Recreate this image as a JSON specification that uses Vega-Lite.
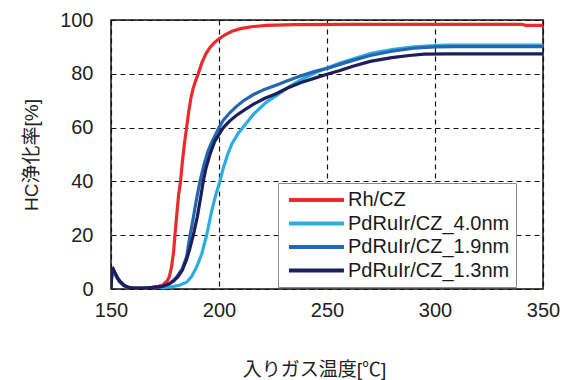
{
  "$schema": "https://vega.github.io/schema/vega-lite/v6.json",
  "width": 432,
  "height": 269,
  "autosize": {"type": "none"},
  "padding": {"left": 111, "top": 20, "right": 22, "bottom": 91},
  "background": "white",
  "datasets": {
    "curves": [
      {"s":"Rh/CZ","t":150,"v":0},{"s":"Rh/CZ","t":150.4,"v":6.5},{"s":"Rh/CZ","t":151,"v":7.2},{"s":"Rh/CZ","t":152,"v":5.5},{"s":"Rh/CZ","t":153,"v":4},{"s":"Rh/CZ","t":154,"v":2.8},{"s":"Rh/CZ","t":156,"v":1.3},{"s":"Rh/CZ","t":158,"v":0.6},{"s":"Rh/CZ","t":160,"v":0.3},{"s":"Rh/CZ","t":164,"v":0.2},{"s":"Rh/CZ","t":168,"v":0.4},{"s":"Rh/CZ","t":172,"v":1},{"s":"Rh/CZ","t":174,"v":1.5},{"s":"Rh/CZ","t":176,"v":3},{"s":"Rh/CZ","t":177,"v":4.6},{"s":"Rh/CZ","t":178,"v":8},{"s":"Rh/CZ","t":179,"v":14},{"s":"Rh/CZ","t":179.6,"v":20},{"s":"Rh/CZ","t":180.5,"v":28},{"s":"Rh/CZ","t":181.3,"v":35},{"s":"Rh/CZ","t":182.2,"v":40},{"s":"Rh/CZ","t":183,"v":47},{"s":"Rh/CZ","t":184,"v":54},{"s":"Rh/CZ","t":185,"v":60},{"s":"Rh/CZ","t":186,"v":66},{"s":"Rh/CZ","t":187,"v":71},{"s":"Rh/CZ","t":188,"v":74.5},{"s":"Rh/CZ","t":189,"v":77},{"s":"Rh/CZ","t":190.4,"v":80},{"s":"Rh/CZ","t":192,"v":84},{"s":"Rh/CZ","t":194,"v":87.5},{"s":"Rh/CZ","t":196,"v":90},{"s":"Rh/CZ","t":198,"v":91.7},{"s":"Rh/CZ","t":200,"v":93},{"s":"Rh/CZ","t":203,"v":94.6},{"s":"Rh/CZ","t":206,"v":95.8},{"s":"Rh/CZ","t":210,"v":96.8},{"s":"Rh/CZ","t":215,"v":97.5},{"s":"Rh/CZ","t":222,"v":98},{"s":"Rh/CZ","t":235,"v":98.3},{"s":"Rh/CZ","t":260,"v":98.4},{"s":"Rh/CZ","t":340,"v":98.4},{"s":"Rh/CZ","t":342,"v":98},{"s":"Rh/CZ","t":350,"v":98},

      {"s":"PdRuIr/CZ_4.0nm","t":150,"v":0},{"s":"PdRuIr/CZ_4.0nm","t":150.4,"v":6},{"s":"PdRuIr/CZ_4.0nm","t":151,"v":6.8},{"s":"PdRuIr/CZ_4.0nm","t":152,"v":5.2},{"s":"PdRuIr/CZ_4.0nm","t":153,"v":3.8},{"s":"PdRuIr/CZ_4.0nm","t":154,"v":2.6},{"s":"PdRuIr/CZ_4.0nm","t":156,"v":1.2},{"s":"PdRuIr/CZ_4.0nm","t":158,"v":0.5},{"s":"PdRuIr/CZ_4.0nm","t":160,"v":0.2},{"s":"PdRuIr/CZ_4.0nm","t":166,"v":0.2},{"s":"PdRuIr/CZ_4.0nm","t":174,"v":0.5},{"s":"PdRuIr/CZ_4.0nm","t":178,"v":0.8},{"s":"PdRuIr/CZ_4.0nm","t":182,"v":1.5},{"s":"PdRuIr/CZ_4.0nm","t":185,"v":2.5},{"s":"PdRuIr/CZ_4.0nm","t":187.3,"v":4.6},{"s":"PdRuIr/CZ_4.0nm","t":189.7,"v":8.3},{"s":"PdRuIr/CZ_4.0nm","t":192,"v":13},{"s":"PdRuIr/CZ_4.0nm","t":194.3,"v":20},{"s":"PdRuIr/CZ_4.0nm","t":196.6,"v":29},{"s":"PdRuIr/CZ_4.0nm","t":198.5,"v":35},{"s":"PdRuIr/CZ_4.0nm","t":200.4,"v":40},{"s":"PdRuIr/CZ_4.0nm","t":202,"v":45},{"s":"PdRuIr/CZ_4.0nm","t":204,"v":50},{"s":"PdRuIr/CZ_4.0nm","t":206,"v":54},{"s":"PdRuIr/CZ_4.0nm","t":209,"v":58},{"s":"PdRuIr/CZ_4.0nm","t":212,"v":61},{"s":"PdRuIr/CZ_4.0nm","t":216,"v":65},{"s":"PdRuIr/CZ_4.0nm","t":222,"v":69.5},{"s":"PdRuIr/CZ_4.0nm","t":226.7,"v":72},{"s":"PdRuIr/CZ_4.0nm","t":232,"v":75},{"s":"PdRuIr/CZ_4.0nm","t":238,"v":77.8},{"s":"PdRuIr/CZ_4.0nm","t":244,"v":80.2},{"s":"PdRuIr/CZ_4.0nm","t":250,"v":82.2},{"s":"PdRuIr/CZ_4.0nm","t":256,"v":84},{"s":"PdRuIr/CZ_4.0nm","t":262,"v":85.5},{"s":"PdRuIr/CZ_4.0nm","t":270,"v":87.5},{"s":"PdRuIr/CZ_4.0nm","t":280,"v":89},{"s":"PdRuIr/CZ_4.0nm","t":290,"v":90},{"s":"PdRuIr/CZ_4.0nm","t":300,"v":90.5},{"s":"PdRuIr/CZ_4.0nm","t":305,"v":90.7},{"s":"PdRuIr/CZ_4.0nm","t":350,"v":90.7},

      {"s":"PdRuIr/CZ_1.9nm","t":150,"v":0},{"s":"PdRuIr/CZ_1.9nm","t":150.4,"v":6.5},{"s":"PdRuIr/CZ_1.9nm","t":151,"v":7.2},{"s":"PdRuIr/CZ_1.9nm","t":152,"v":5.6},{"s":"PdRuIr/CZ_1.9nm","t":153,"v":4},{"s":"PdRuIr/CZ_1.9nm","t":154,"v":2.8},{"s":"PdRuIr/CZ_1.9nm","t":156,"v":1.3},{"s":"PdRuIr/CZ_1.9nm","t":158,"v":0.6},{"s":"PdRuIr/CZ_1.9nm","t":160,"v":0.3},{"s":"PdRuIr/CZ_1.9nm","t":166,"v":0.3},{"s":"PdRuIr/CZ_1.9nm","t":172,"v":0.8},{"s":"PdRuIr/CZ_1.9nm","t":174,"v":1},{"s":"PdRuIr/CZ_1.9nm","t":177,"v":1.8},{"s":"PdRuIr/CZ_1.9nm","t":180,"v":4},{"s":"PdRuIr/CZ_1.9nm","t":183,"v":7.5},{"s":"PdRuIr/CZ_1.9nm","t":185,"v":12},{"s":"PdRuIr/CZ_1.9nm","t":186.6,"v":20},{"s":"PdRuIr/CZ_1.9nm","t":188,"v":26},{"s":"PdRuIr/CZ_1.9nm","t":189.5,"v":33},{"s":"PdRuIr/CZ_1.9nm","t":191.2,"v":40},{"s":"PdRuIr/CZ_1.9nm","t":193,"v":46},{"s":"PdRuIr/CZ_1.9nm","t":194.8,"v":51},{"s":"PdRuIr/CZ_1.9nm","t":196.6,"v":54.5},{"s":"PdRuIr/CZ_1.9nm","t":198.5,"v":57.5},{"s":"PdRuIr/CZ_1.9nm","t":200,"v":60},{"s":"PdRuIr/CZ_1.9nm","t":202,"v":62.8},{"s":"PdRuIr/CZ_1.9nm","t":205,"v":65.5},{"s":"PdRuIr/CZ_1.9nm","t":208,"v":67.8},{"s":"PdRuIr/CZ_1.9nm","t":211.3,"v":70},{"s":"PdRuIr/CZ_1.9nm","t":216,"v":72.3},{"s":"PdRuIr/CZ_1.9nm","t":221,"v":74.2},{"s":"PdRuIr/CZ_1.9nm","t":226.7,"v":75.8},{"s":"PdRuIr/CZ_1.9nm","t":232,"v":77.5},{"s":"PdRuIr/CZ_1.9nm","t":238,"v":79.3},{"s":"PdRuIr/CZ_1.9nm","t":244,"v":80.8},{"s":"PdRuIr/CZ_1.9nm","t":250,"v":82},{"s":"PdRuIr/CZ_1.9nm","t":256,"v":83.5},{"s":"PdRuIr/CZ_1.9nm","t":262,"v":85},{"s":"PdRuIr/CZ_1.9nm","t":270,"v":86.8},{"s":"PdRuIr/CZ_1.9nm","t":280,"v":88.4},{"s":"PdRuIr/CZ_1.9nm","t":290,"v":89.5},{"s":"PdRuIr/CZ_1.9nm","t":300,"v":90},{"s":"PdRuIr/CZ_1.9nm","t":310,"v":90.1},{"s":"PdRuIr/CZ_1.9nm","t":350,"v":90.1},

      {"s":"PdRuIr/CZ_1.3nm","t":150,"v":0},{"s":"PdRuIr/CZ_1.3nm","t":150.4,"v":6.8},{"s":"PdRuIr/CZ_1.3nm","t":151,"v":7.5},{"s":"PdRuIr/CZ_1.3nm","t":152,"v":5.8},{"s":"PdRuIr/CZ_1.3nm","t":153,"v":4.2},{"s":"PdRuIr/CZ_1.3nm","t":154,"v":3},{"s":"PdRuIr/CZ_1.3nm","t":156,"v":1.4},{"s":"PdRuIr/CZ_1.3nm","t":158,"v":0.6},{"s":"PdRuIr/CZ_1.3nm","t":160,"v":0.3},{"s":"PdRuIr/CZ_1.3nm","t":166,"v":0.3},{"s":"PdRuIr/CZ_1.3nm","t":172,"v":0.8},{"s":"PdRuIr/CZ_1.3nm","t":174,"v":1},{"s":"PdRuIr/CZ_1.3nm","t":177,"v":2},{"s":"PdRuIr/CZ_1.3nm","t":179,"v":3},{"s":"PdRuIr/CZ_1.3nm","t":181,"v":4.6},{"s":"PdRuIr/CZ_1.3nm","t":183,"v":7},{"s":"PdRuIr/CZ_1.3nm","t":185,"v":11},{"s":"PdRuIr/CZ_1.3nm","t":186.5,"v":15},{"s":"PdRuIr/CZ_1.3nm","t":188.1,"v":20},{"s":"PdRuIr/CZ_1.3nm","t":190,"v":27},{"s":"PdRuIr/CZ_1.3nm","t":191.5,"v":34},{"s":"PdRuIr/CZ_1.3nm","t":192.7,"v":40},{"s":"PdRuIr/CZ_1.3nm","t":194,"v":45},{"s":"PdRuIr/CZ_1.3nm","t":196,"v":50.5},{"s":"PdRuIr/CZ_1.3nm","t":198.1,"v":55},{"s":"PdRuIr/CZ_1.3nm","t":200,"v":57.5},{"s":"PdRuIr/CZ_1.3nm","t":202,"v":60},{"s":"PdRuIr/CZ_1.3nm","t":205,"v":62.5},{"s":"PdRuIr/CZ_1.3nm","t":208,"v":64.5},{"s":"PdRuIr/CZ_1.3nm","t":211.3,"v":66.3},{"s":"PdRuIr/CZ_1.3nm","t":216,"v":68.7},{"s":"PdRuIr/CZ_1.3nm","t":221,"v":70.8},{"s":"PdRuIr/CZ_1.3nm","t":226.7,"v":72.7},{"s":"PdRuIr/CZ_1.3nm","t":232,"v":74.8},{"s":"PdRuIr/CZ_1.3nm","t":238,"v":76.8},{"s":"PdRuIr/CZ_1.3nm","t":244,"v":78.3},{"s":"PdRuIr/CZ_1.3nm","t":250,"v":79.8},{"s":"PdRuIr/CZ_1.3nm","t":256,"v":81.2},{"s":"PdRuIr/CZ_1.3nm","t":262,"v":82.8},{"s":"PdRuIr/CZ_1.3nm","t":270,"v":84.6},{"s":"PdRuIr/CZ_1.3nm","t":280,"v":86},{"s":"PdRuIr/CZ_1.3nm","t":288,"v":86.8},{"s":"PdRuIr/CZ_1.3nm","t":295,"v":87.3},{"s":"PdRuIr/CZ_1.3nm","t":305,"v":87.4},{"s":"PdRuIr/CZ_1.3nm","t":350,"v":87.4}
    ]
  },
  "data": {"name": "curves"},
  "mark": {"type": "line", "strokeWidth": 3.2, "clip": true},
  "encoding": {
    "x": {
      "field": "t", "type": "quantitative",
      "scale": {"domain": [150, 350], "nice": false, "zero": false},
      "axis": {"values": [150, 200, 250, 300, 350], "title": "入りガス温度[℃]", "titlePadding": 40, "titleX": 203, "titleAnchor": null}
    },
    "y": {
      "field": "v", "type": "quantitative",
      "scale": {"domain": [0, 100], "nice": false},
      "axis": {"values": [0, 20, 40, 60, 80, 100], "title": "HC浄化率[%]", "titlePadding": 18}
    },
    "color": {
      "field": "s", "type": "nominal",
      "sort": ["Rh/CZ", "PdRuIr/CZ_4.0nm", "PdRuIr/CZ_1.9nm", "PdRuIr/CZ_1.3nm"],
      "scale": {
        "domain": ["Rh/CZ", "PdRuIr/CZ_4.0nm", "PdRuIr/CZ_1.9nm", "PdRuIr/CZ_1.3nm"],
        "range": ["#ec2a2e", "#2bade3", "#2367b1", "#1d1f5c"]
      },
      "legend": {
        "title": null, "orient": "none", "legendX": 167, "legendY": 163,
        "strokeColor": "#8c8c8c", "fillColor": "white", "padding": 6,
        "symbolType": "M-0.67,0H5.44", "symbolSize": 324, "symbolStrokeWidth": 4,
        "labelFontSize": 20, "labelColor": "#1a1a1a", "labelLimit": 300, "labelOffset": 42,
        "rowPadding": 2.5
      }
    }
  },
  "config": {
    "font": "'Liberation Sans', 'Noto Sans CJK JP', sans-serif",
    "view": {"stroke": "#111", "strokeWidth": 1.5},
    "axis": {
      "domain": false, "ticks": false,
      "grid": true, "gridColor": "#111", "gridDash": [5, 4], "gridWidth": 1.2, "gridOpacity": 1,
      "labelFontSize": 20, "labelColor": "#222", "labelFont": "'Liberation Sans', sans-serif",
      "titleFontSize": 19, "titleFontWeight": "normal", "titleColor": "#222",
      "titleFont": "'Liberation Sans', 'Noto Sans CJK JP', sans-serif"
    },
    "axisX": {"labelPadding": 11, "labelFlush": false},
    "axisY": {"labelPadding": 18}
  }
}
